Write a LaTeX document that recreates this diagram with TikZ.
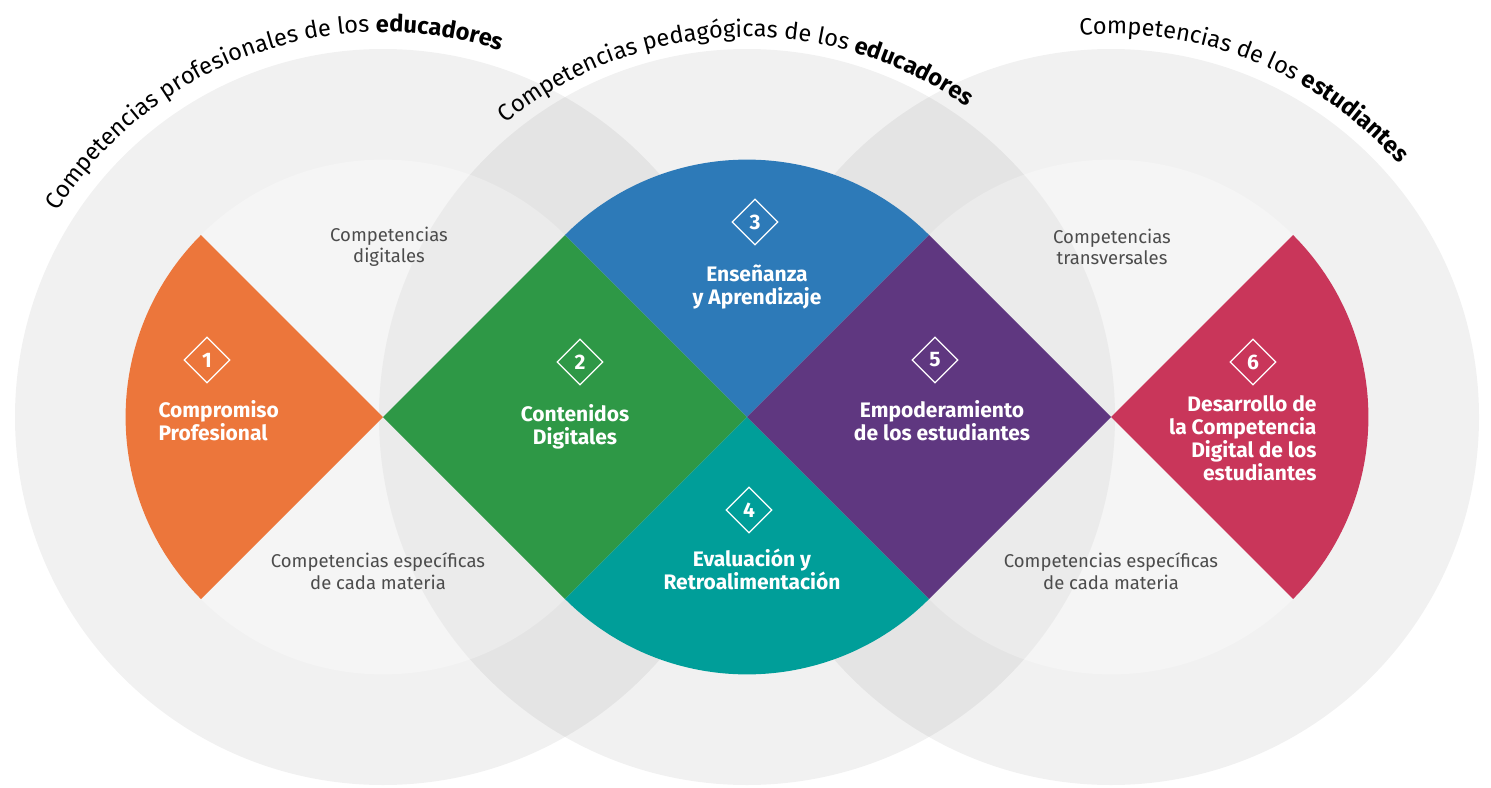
\documentclass[tikz,border=0pt]{standalone}
\usepackage{fontspec}
\setmainfont{Fira Sans}
\usepackage{tikz}
\usetikzlibrary{shapes.geometric}
\usetikzlibrary{decorations.text}
\definecolor{naranja}{HTML}{EC763B}
\definecolor{verde}{HTML}{2E9846}
\definecolor{azul}{HTML}{2D7AB8}
\definecolor{turquesa}{HTML}{009E99}
\definecolor{morado}{HTML}{5F3780}
\definecolor{granate}{HTML}{C9365A}
\newcommand{\arcfont}{\fontsize{23.6}{28}\selectfont}
\tikzset{ring/.style={fill=black, fill opacity=.055}}
\tikzset{core/.style={fill=white, fill opacity=.25}}
\tikzset{badge/.style={diamond, draw=white, line width=1.2pt, minimum size=46pt, inner sep=0pt, text=white, font=\bfseries\fontsize{21}{21}\selectfont}}
\tikzset{title/.style={text=white, font=\bfseries\fontsize{21}{23}\selectfont}}
\tikzset{note/.style={text=black!70, align=center, font=\fontsize{18.5}{21.5}\selectfont}}

\begin{document}
\begin{tikzpicture}[x=1pt,y=-1pt]
  \useasboundingbox (0,0) rectangle (1491,787);
  % circulos de fondo
  \foreach \cx in {383, 747, 1111} {
    \fill[ring] (\cx,417) circle[radius=368];
  }
  \foreach \cx in {383, 1111} {
    \fill[core] (\cx,417) circle[radius=257.4];
  }

  % areas
  \fill[naranja] (383,417) -- ++(-135:257.4) arc[start angle=-135, end angle=-225, radius=257.4] -- cycle;
  \fill[verde] (383,417) -- (565,235) -- (747,417) -- (565,599) -- cycle;
  \fill[azul] (747,417) -- ++(-45:257.4) arc[start angle=-45, end angle=-135, radius=257.4] -- cycle;
  \fill[turquesa] (747,417) -- ++(45:257.4) arc[start angle=45, end angle=135, radius=257.4] -- cycle;
  \fill[morado] (747,417) -- (929,235) -- (1111,417) -- (929,599) -- cycle;
  \fill[granate] (1111,417) -- ++(-45:257.4) arc[start angle=-45, end angle=45, radius=257.4] -- cycle;

  \foreach \n/\x/\y in {
    1/207/360,
    2/580/362,
    3/755/222,
    4/749/510,
    5/935/360,
    6/1253/362%
  } {
    \node[badge] (b\n) at (\x,\y) {\n};
  }

  \node[title, align=left, anchor=west] (t1) at (155,421) {Compromiso\\Profesional};
  \node[title, align=center] (t2) at (575,427) {Contenidos\\Digitales};
  \node[title, align=center] (t3) at (757,287) {Enseñanza\\y Aprendizaje};
  \node[title, align=center] (t4) at (752,569) {Evaluación y\\Retroalimentación};
  \node[title, align=center] (t5) at (942,421) {Empoderamiento\\de los estudiantes};
  \node[title, align=right, anchor=east] (t6) at (1320,438) {Desarrollo de\\la Competencia\\Digital de los\\estudiantes};

  \node[note] (n1) at (389,247) {Competencias\\digitales};
  \node[note] (n2) at (378,571) {Competencias específicas\\de cada materia};
  \node[note] (n3) at (1112,247) {Competencias\\transversales};
  \node[note] (n4) at (1111,571) {Competencias específicas\\de cada materia};

  % textos curvos
  \path[decorate, decoration={text along path, text align=center,
    text={|\arcfont|Competencias profesionales de los |\arcfont\bfseries|educadores}}]
    (383,417) ++(-160:385) arc[start angle=-160, end angle=-60, radius=385];
  \path[decorate, decoration={text along path, text align=center,
    text={|\arcfont|Competencias pedagógicas de los |\arcfont\bfseries|educadores}}]
    (747,417) ++(-142:380) arc[start angle=-142, end angle=-42, radius=380];
  \path[decorate, decoration={text along path, text align=center,
    text={|\arcfont|Competencias de los |\arcfont\bfseries|estudiantes}}]
    (1111,417) ++(-118:383) arc[start angle=-118, end angle=-18, radius=383];
\end{tikzpicture}
\end{document}
